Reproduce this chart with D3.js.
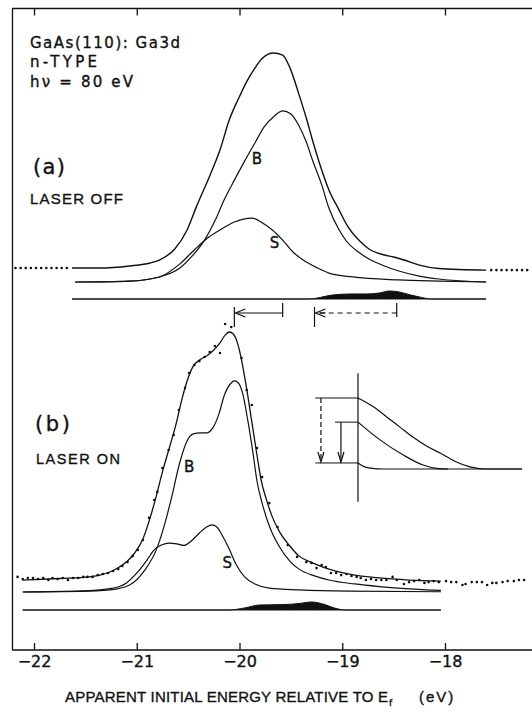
<!DOCTYPE html>
<html>
<head>
<meta charset="utf-8">
<script src="https://cdn.jsdelivr.net/npm/d3@7"></script>
<style>
body { margin: 0; background: #fff; }
svg { display: block; }
text { font-family: "DejaVu Sans", sans-serif; fill: #111; stroke: #111; stroke-width: 0.35; }
</style>
</head>
<body>
<svg width="532" height="715"></svg>
<script>
// Energies in eV, intensities in arbitrary units (fit maximum of each panel = 100)

// (a) laser off
var totalA_E = [-21.63,-21.36,-21.07,-20.87,-20.78,-20.63,-20.51,-20.42,-20.29,-20.19,-20.10,-20.00,-19.93,-19.85,-19.78,-19.67,-19.58,-19.51,-19.42,-19.35,-19.29,-19.20,-19.13,-19.03,-18.96,-18.83,-18.74,-18.59,-18.50,-18.40,-18.25,-18.06,-17.60];
var totalA_I = [6.1,6.1,7.0,8.3,9.6,14.4,22.7,32.8,46.3,57.6,70.7,81.0,87.5,93.4,97.6,100,99.1,93.6,81.7,71.6,62.0,48.9,40.2,31.4,25.3,17.9,14.4,11.8,10.9,9.6,7.4,5.9,5.2];
var bulkA_E = [-21.60,-21.07,-20.78,-20.58,-20.46,-20.34,-20.24,-20.15,-20.05,-19.95,-19.85,-19.76,-19.66,-19.58,-19.50,-19.42,-19.35,-19.29,-19.20,-19.13,-19.03,-18.96,-18.83,-18.74,-18.59,-18.45,-18.25,-18.06,-17.60];
var bulkA_I = [0,0.4,2.2,6.1,11.4,18.3,26.6,35.8,44.5,52.8,60.7,67.7,72.5,74.7,73.4,68.1,61.1,53.3,42.4,32.3,22.7,17.9,12.7,10.0,7.0,4.8,2.6,1.3,0];
var surfA_E = [-21.60,-21.07,-20.78,-20.58,-20.44,-20.31,-20.19,-20.05,-19.88,-19.76,-19.68,-19.58,-19.48,-19.38,-19.24,-19.13,-18.90,-18.45,-18.06,-17.60];
var surfA_I = [0,0.4,2.2,7.9,14.0,19.2,22.7,26.2,27.9,25.3,22.7,18.3,13.1,9.6,6.1,3.9,2.2,0.9,0.4,0];
var residA_E = [-21.63,-19.32,-19.10,-18.93,-18.77,-18.64,-18.54,-18.45,-18.33,-18.23,-18.14,-17.60];
var residA_I = [0,0,1.7,2.2,2.2,2.6,3.5,3.1,1.7,0.7,0,0];
var dotsA_E = [-22.18,-22.13,-22.08,-22.03,-21.98,-21.93,-21.88,-21.83,-21.78,-21.73,-21.68,-17.55,-17.50,-17.45,-17.40,-17.35,-17.30,-17.25,-17.20];
var dotsA_I = [6.1,6.1,6.1,6.1,6.1,6.1,6.1,6.1,6.1,6.1,6.1,5.2,5.2,5.2,5.2,5.2,5.2,5.2,5.2];

// (b) laser on
var totalB_E = [-22.11,-21.75,-21.46,-21.36,-21.26,-21.17,-21.09,-21.02,-20.94,-20.87,-20.81,-20.75,-20.68,-20.62,-20.56,-20.50,-20.45,-20.39,-20.32,-20.26,-20.19,-20.14,-20.10,-20.06,-20.02,-19.98,-19.93,-19.88,-19.83,-19.79,-19.74,-19.68,-19.61,-19.51,-19.42,-19.29,-19.13,-18.93,-18.64,-18.35,-18.04];
var totalB_I = [4.6,5.2,5.8,6.5,7.7,9.6,11.9,15.0,20.4,28.5,36.9,46.2,55.8,64.2,74.2,82.3,86.9,89.2,90.8,92.7,95.8,98.8,100,99.2,95.8,89.2,78.1,65.4,52.7,43.1,35.8,28.8,23.1,17.7,13.8,11.2,8.8,6.9,5.4,4.6,4.2];
var bulkB_E = [-22.11,-21.55,-21.26,-21.07,-20.92,-20.81,-20.73,-20.66,-20.58,-20.51,-20.45,-20.38,-20.32,-20.26,-20.20,-20.15,-20.09,-20.05,-20.01,-19.97,-19.92,-19.87,-19.83,-19.78,-19.71,-19.61,-19.51,-19.42,-19.27,-19.13,-18.88,-18.64,-18.35,-18.04];
var bulkB_I = [0,0.2,0.8,2.7,8.5,16.2,25.8,36.5,50.0,58.1,60.8,61.2,61.2,63.1,68.5,75.4,80.0,81.2,80.4,76.5,66.2,53.8,42.7,34.2,25.4,17.3,11.9,8.8,6.2,4.6,3.1,2.1,1.2,0.6];
var surfB_E = [-22.11,-21.55,-21.26,-21.10,-20.99,-20.90,-20.83,-20.76,-20.68,-20.61,-20.54,-20.47,-20.39,-20.32,-20.27,-20.22,-20.17,-20.10,-20.03,-19.95,-19.85,-19.71,-19.42,-18.93,-18.04];
var surfB_I = [0,0.4,1.3,3.5,7.7,12.3,16.2,18.1,18.8,18.5,17.9,19.6,22.7,25.0,25.8,25.0,21.9,16.5,10.4,5.8,3.1,1.5,0.8,0.3,0.1];
var residB_E = [-22.11,-20.10,-19.95,-19.81,-19.56,-19.42,-19.30,-19.17,-19.08,-18.96,-18.04];
var residB_I = [0,0,0.8,1.9,2.1,2.5,3.1,2.1,0.8,0,0];
var dotsB_E = [-22.16,-22.11,-22.06,-22.01,-21.96,-21.91,-21.86,-21.82,-21.77,-21.72,-21.67,-21.62,-21.57,-21.52,-21.48,-21.43,-21.38,-21.33,-21.28,-21.23,-21.18,-21.14,-21.09,
  -21.04,-20.99,-20.94,-20.88,-20.83,-20.80,-20.75,-20.69,-20.64,-20.59,-20.53,-20.49,-20.44,-20.39,-20.34,-20.29,-20.24,-20.19,-20.14,-20.08,
  -19.98,-19.93,-19.88,-19.83,-19.78,-19.71,-19.63,-19.53,-19.44,
  -19.35,-19.30,-19.25,-19.20,-19.16,-19.11,-19.06,-19.01,-18.96,-18.91,-18.86,-18.82,-18.77,-18.72,-18.67,-18.62,-18.57,-18.51,-18.47,-18.40,-18.35,-18.30,-18.25,-18.20,-18.16,-18.11,-18.06,
  -17.99,-17.94,-17.89,-17.83,-17.80,-17.74,-17.69,-17.64,-17.59,-17.54,-17.50,-17.44,-17.39,-17.33,-17.28,-17.23];
var dotsB_I = [5.8,5.0,5.4,5.4,5.0,5.4,4.6,5.4,5.0,5.4,4.6,5.4,5.4,5.8,5.8,5.8,6.5,6.9,7.3,8.1,8.8,10.0,11.5,
  13.8,16.2,20.0,28.5,35.4,38.5,47.7,54.6,60.4,70.0,78.5,84.2,87.3,88.8,90.4,92.3,94.6,91.9,103.1,101.9,
  90.0,77.7,71.9,55.4,44.2,34.2,25.0,18.1,13.5,
  11.5,11.2,9.2,10.4,9.6,7.3,7.3,6.5,6.9,6.2,5.8,5.4,4.6,5.0,4.6,4.6,4.6,5.8,4.6,3.1,3.8,4.2,4.6,3.5,3.8,4.2,3.8,
  4.2,3.8,3.8,2.7,3.1,3.8,3.8,3.8,2.7,3.5,3.5,3.8,4.2,4.2,4.6,4.6];

// peak shifts marked between the panels (eV)
var shiftBulk = [-19.58, -20.05];
var shiftSurf = [-18.47, -19.27];

// band bending sketch: depth (arb.) and band energy (arb.)
var darkDepth = [0,0.85,1.77,2.56,3.35,4.2,5.0,5.9,6.83,7.7,10];
var darkBand = [10,8.9,7.3,5.9,4.5,3.2,2.25,1.1,0.3,0,0];
var laserDepth = [0,1.34,2.74,3.96,4.8,5.5];
var laserBand = [6.6,4.1,2.0,0.56,0.1,0];
var flatDepth = [0,0.4,1.0,1.5,10];
var flatBand = [0.85,0.3,0.05,0,0];

var tickValues = [-22, -21, -20, -19, -18];

var svg = d3.select("svg");

var x = d3.scaleLinear().domain([-22, -18]).range([34, 445]);
var yA = d3.scaleLinear().domain([0, 100]).range([282, 53]);
var yResA = d3.scaleLinear().domain([0, 100]).range([299, 70]);
var yB = d3.scaleLinear().domain([0, 100]).range([592, 332]);
var yResB = d3.scaleLinear().domain([0, 100]).range([610, 350]);

// frame
svg.append("path")
    .attr("d", "M532,8.5H12.5V650H532")
    .attr("fill", "none")
    .attr("stroke", "#111")
    .attr("stroke-width", 1.3);

var bottomAxis = svg.append("g")
    .attr("transform", "translate(0,650)")
    .call(d3.axisBottom(x).tickValues(tickValues).tickSize(-7).tickPadding(6).tickFormat(d3.format("d")));
bottomAxis.select(".domain").remove();
bottomAxis.selectAll("line").attr("stroke", "#111").attr("stroke-width", 1.3);
bottomAxis.selectAll("text")
    .attr("font-family", "DejaVu Sans")
    .attr("font-size", 16)
    .attr("fill", "#111");

var topAxis = svg.append("g")
    .attr("transform", "translate(0,8.5)")
    .call(d3.axisTop(x).tickValues(tickValues).tickSize(-7).tickFormat(""));
topAxis.select(".domain").remove();
topAxis.selectAll("line").attr("stroke", "#111").attr("stroke-width", 1.3);

function pairs(es, is) { return d3.zip(es, is); }

function drawLine(es, is, yScale, w) {
    svg.append("path")
        .datum(pairs(es, is))
        .attr("fill", "none")
        .attr("stroke", "#111")
        .attr("stroke-width", w || 1.2)
        .attr("d", d3.line()
            .x(function(d) { return x(d[0]); })
            .y(function(d) { return yScale(d[1]); })
            .curve(d3.curveMonotoneX));
}

function drawResidual(es, is, yScale) {
    svg.append("path")
        .datum(pairs(es, is))
        .attr("fill", "#111")
        .attr("stroke", "#111")
        .attr("stroke-width", 1)
        .attr("d", d3.area()
            .x(function(d) { return x(d[0]); })
            .y0(yScale(0))
            .y1(function(d) { return yScale(d[1]); })
            .curve(d3.curveMonotoneX));
}

function drawDots(es, is, yScale) {
    svg.append("g").selectAll("circle")
        .data(pairs(es, is))
        .enter().append("circle")
        .attr("cx", function(d) { return x(d[0]); })
        .attr("cy", function(d) { return yScale(d[1]); })
        .attr("r", 1.3)
        .attr("fill", "#111");
}

// panel (a)
drawLine(totalA_E, totalA_I, yA, 1.4);
drawLine(bulkA_E, bulkA_I, yA);
drawLine(surfA_E, surfA_I, yA);
drawResidual(residA_E, residA_I, yResA);
drawDots(dotsA_E, dotsA_I, yA);

// panel (b)
drawLine(totalB_E, totalB_I, yB, 1.3);
drawLine(bulkB_E, bulkB_I, yB);
drawLine(surfB_E, surfB_I, yB);
drawResidual(residB_E, residB_I, yResB);
drawDots(dotsB_E, dotsB_I, yB);

// shift arrows between the panels
var arrowY = 313;
function shiftArrow(pair, dashed) {
    var g = svg.append("g").attr("stroke", "#111").attr("stroke-width", 1.2).attr("fill", "none");
    var x0 = x(pair[0]), x1 = x(pair[1]);
    g.append("line").attr("x1", x0).attr("x2", x0).attr("y1", arrowY - 10).attr("y2", arrowY + 4);
    g.append("line").attr("x1", x1).attr("x2", x1).attr("y1", arrowY - 6).attr("y2", arrowY + 14);
    g.append("line").attr("x1", x0).attr("x2", x1 + 2).attr("y1", arrowY).attr("y2", arrowY)
        .attr("stroke-dasharray", dashed ? "5,4" : null);
    g.append("path").attr("d", "M" + (x1 + 11) + "," + (arrowY - 4) + "L" + (x1 + 1) + "," + arrowY + "L" + (x1 + 11) + "," + (arrowY + 4));
    if (dashed) g.append("line").attr("x1", x1 + 5).attr("x2", x1 + 11).attr("y1", arrowY).attr("y2", arrowY);
}
shiftArrow(shiftBulk, false);
shiftArrow(shiftSurf, true);

// band bending sketch
var ix = d3.scaleLinear().domain([0, 10]).range([358, 522]);
var iy = d3.scaleLinear().domain([0, 10]).range([469, 398]);
var inset = svg.append("g").attr("stroke", "#111").attr("fill", "none").attr("stroke-width", 1.2);
inset.append("line").attr("x1", ix(0)).attr("x2", ix(0)).attr("y1", iy(13.5)).attr("y2", iy(-4.6));
var bandLine = d3.line()
    .x(function(d) { return ix(d[0]); })
    .y(function(d) { return iy(d[1]); })
    .curve(d3.curveMonotoneX);
[[darkDepth, darkBand], [laserDepth, laserBand], [flatDepth, flatBand]].forEach(function(c) {
    inset.append("path").datum(d3.zip(c[0], c[1])).attr("d", bandLine);
});
inset.append("line").attr("x1", ix(-2.6)).attr("x2", ix(0)).attr("y1", iy(10)).attr("y2", iy(10)).attr("stroke-width", 1);
inset.append("line").attr("x1", ix(-1.4)).attr("x2", ix(0)).attr("y1", iy(6.6)).attr("y2", iy(6.6)).attr("stroke-width", 1);
inset.append("line").attr("x1", ix(-2.6)).attr("x2", ix(0)).attr("y1", iy(0.85)).attr("y2", iy(0.85)).attr("stroke-width", 1);
function downArrow(depth, from, dashed) {
    var ax = ix(depth), yEnd = iy(0.85);
    inset.append("line").attr("x1", ax).attr("x2", ax).attr("y1", iy(from)).attr("y2", yEnd - 1)
        .attr("stroke-dasharray", dashed ? "5,3" : null);
    inset.append("path").attr("d", "M" + (ax - 3) + "," + (yEnd - 11) + "L" + ax + "," + (yEnd - 1) + "L" + (ax + 3) + "," + (yEnd - 11));
}
downArrow(-2.26, 10, true);
downArrow(-1.04, 6.6, false);

// labels
function label(t, px, py, size, len, family) {
    var el = svg.append("text").attr("x", px).attr("y", py).attr("font-size", size).text(t);
    if (family) el.style("font-family", family);
    if (len) el.attr("textLength", len).attr("lengthAdjust", "spacing");
    return el;
}
label("GaAs(110): Ga3d", 30, 48, 15, 150);
label("n-TYPE", 30, 67, 15, 67);
label("h\u03bd = 80 eV", 30, 87, 15, 103);
label("(a)", 33, 174, 21, 32);
label("LASER OFF", 30, 204, 15, 93, "Liberation Sans");
label("(b)", 35, 431, 21, 35);
label("LASER ON", 36, 464, 14.5, 84, "Liberation Sans");

var compLabels = [
    { t: "B", e: -19.83, v: 54.1, s: yA },
    { t: "S", e: -19.66, v: 17.0, s: yA },
    { t: "B", e: -20.49, v: 48.1, s: yB },
    { t: "S", e: -20.12, v: 11.5, s: yB }
];
svg.selectAll(".comp")
    .data(compLabels)
    .enter().append("text")
    .attr("class", "comp")
    .attr("x", function(d) { return x(d.e); })
    .attr("y", function(d) { return d.s(d.v); })
    .attr("dy", "0.36em")
    .attr("text-anchor", "middle")
    .attr("font-size", 15)
    .text(function(d) { return d.t; });

// axis title
label("APPARENT INITIAL ENERGY RELATIVE TO E", 65, 702, 15, 323, "Liberation Sans");
label("f", 389, 706, 9);
label("(eV)", 419, 702, 15, null, "Liberation Sans").style("letter-spacing", "2px");
</script>
</body>
</html>
